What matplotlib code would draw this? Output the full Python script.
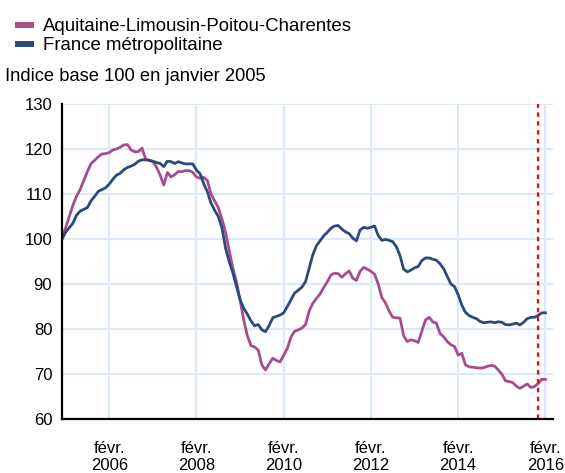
import matplotlib
matplotlib.use("Agg")
import matplotlib.pyplot as plt
from matplotlib.lines import Line2D

plt.rcParams['font.family'] = ['Liberation Sans', 'DejaVu Sans']

# monthly index, month 0 = janvier 2005
aquitaine = [
    100.0, 102.5, 105.0, 107.5, 109.5, 111.0, 113.0, 115.0, 116.8, 117.5,
    118.3, 118.9, 119.0, 119.2, 119.8, 120.0, 120.4, 120.9, 121.0, 119.8,
    119.4, 119.4, 120.2, 117.8, 117.5, 117.2, 116.0, 114.2, 112.0, 114.8,
    113.8, 114.3, 115.0, 115.0, 115.2, 115.2, 114.8, 113.8, 113.5, 113.7,
    113.0, 110.0, 108.5, 107.0, 104.5, 101.5, 97.5, 93.5, 90.5, 86.5,
    82.0, 78.5, 76.3, 76.0, 75.3, 72.0, 70.9, 72.3, 73.5, 73.0,
    72.7, 74.2, 75.7, 78.2, 79.5, 79.8, 80.2, 81.0, 84.0, 85.7,
    86.8, 87.8, 89.2, 90.5, 92.0, 92.4, 92.3, 91.5, 92.3, 92.9,
    91.3, 90.8, 92.8, 93.7, 93.3, 92.8, 92.2, 90.0, 87.0, 85.8,
    84.0, 82.6, 82.5, 82.4, 78.5, 77.2, 77.6, 77.4, 77.0, 79.5,
    82.0, 82.6, 81.6, 81.3, 79.0, 78.3, 77.2, 76.5, 76.1, 74.2,
    74.6, 72.0, 71.6, 71.5, 71.4, 71.3, 71.4, 71.7, 71.9, 71.8,
    70.9, 70.0, 68.5, 68.3, 68.1, 67.3, 66.8, 67.3, 67.8, 67.0,
    67.2, 67.9, 68.8, 68.8,
]
france = [
    100.0, 101.5, 102.5, 103.5, 105.3, 106.2, 106.6, 107.0, 108.5, 109.5,
    110.6, 111.0, 111.4, 112.2, 113.3, 114.2, 114.6, 115.4, 115.9, 116.2,
    116.6, 117.3, 117.6, 117.6, 117.5, 117.3, 117.0, 116.8, 116.1, 117.3,
    117.2, 116.8, 117.2, 116.9, 116.7, 116.7, 116.7, 115.3, 114.5, 112.3,
    110.5, 108.0, 106.4, 105.0, 102.5, 98.0, 95.0, 92.5, 89.5, 86.5,
    84.6, 83.3, 81.8, 80.7, 81.0, 79.8, 79.4, 80.8, 82.5, 82.8,
    83.1, 83.6, 85.0, 86.5, 88.0, 88.6, 89.3, 90.5, 93.5, 96.5,
    98.5, 99.6, 100.7, 101.5, 102.4, 102.9, 103.0, 102.2, 101.6, 101.2,
    100.2, 99.6, 102.0, 102.6, 102.4, 102.6, 102.9, 100.8, 99.7, 99.9,
    99.7, 99.4, 98.3, 96.3, 93.3, 92.7, 93.1, 93.6, 93.9, 95.2,
    95.8, 95.8, 95.5, 95.3, 94.5, 93.4, 91.7, 90.0, 89.4, 87.6,
    85.3, 83.7, 83.0, 82.6, 82.3, 81.7, 81.4, 81.5, 81.6, 81.4,
    81.6, 81.5, 81.0, 80.9, 81.1, 81.3, 80.9, 81.5, 82.3, 82.6,
    82.6, 83.0, 83.6, 83.6,
]
months = list(range(len(aquitaine)))

tick_months = [13, 37, 61, 85, 109, 133]
tick_labels = ["févr.\n2006", "févr.\n2008", "févr.\n2010",
               "févr.\n2012", "févr.\n2014", "févr.\n2016"]
y_ticks = [60, 70, 80, 90, 100, 110, 120, 130]
marker_month = 131
series_names = ["Aquitaine-Limousin-Poitou-Charentes", "France métropolitaine"]

pink = "#a84c8e"
blue = "#2b4a7b"
grid_col = "#dde9f8"

fig = plt.figure(figsize=(5.65, 4.73), dpi=100)
ax = fig.add_axes([0.1097, 0.1142, 0.8685, 0.6658])

ax.plot(months, aquitaine, color=pink, lw=2.0)
ax.plot(months, france, color=blue, lw=2.0)
ax.axvline(marker_month, color="red", lw=1.6, ls=(0, (2, 2)))

ax.set_xlim(0, 135)
ax.set_ylim(60, 130)
ax.set_xticks(tick_months)
ax.set_xticklabels(tick_labels)
ax.set_yticks(y_ticks)
ax.grid(True, color=grid_col, lw=1.5)
ax.set_axisbelow(True)
ax.tick_params(length=0, labelsize=12)
ax.tick_params(axis="x", pad=16)
ax.tick_params(axis="y", pad=7)
for lbl in ax.get_xticklabels():
    lbl.set_linespacing(1.15)
for side in ("top", "right"):
    ax.spines[side].set_visible(False)
for side in ("left", "bottom"):
    ax.spines[side].set_linewidth(1.6)
    ax.spines[side].set_zorder(5)

handles = [Line2D([], [], color=pink, lw=4.3, solid_capstyle="butt"),
           Line2D([], [], color=blue, lw=4.3, solid_capstyle="butt")]
fig.legend(handles, series_names, loc="upper left", bbox_to_anchor=(0.0, 0.993),
           frameon=False, fontsize=13.4, handlelength=1.05, handletextpad=0.45,
           labelspacing=0.12, borderaxespad=0.3, borderpad=0.5)
fig.text(0.009, 1 - 76 / 473, "Indice base 100 en janvier 2005",
         fontsize=13.2, va="center", ha="left")

fig.savefig("out.png", dpi=100)
